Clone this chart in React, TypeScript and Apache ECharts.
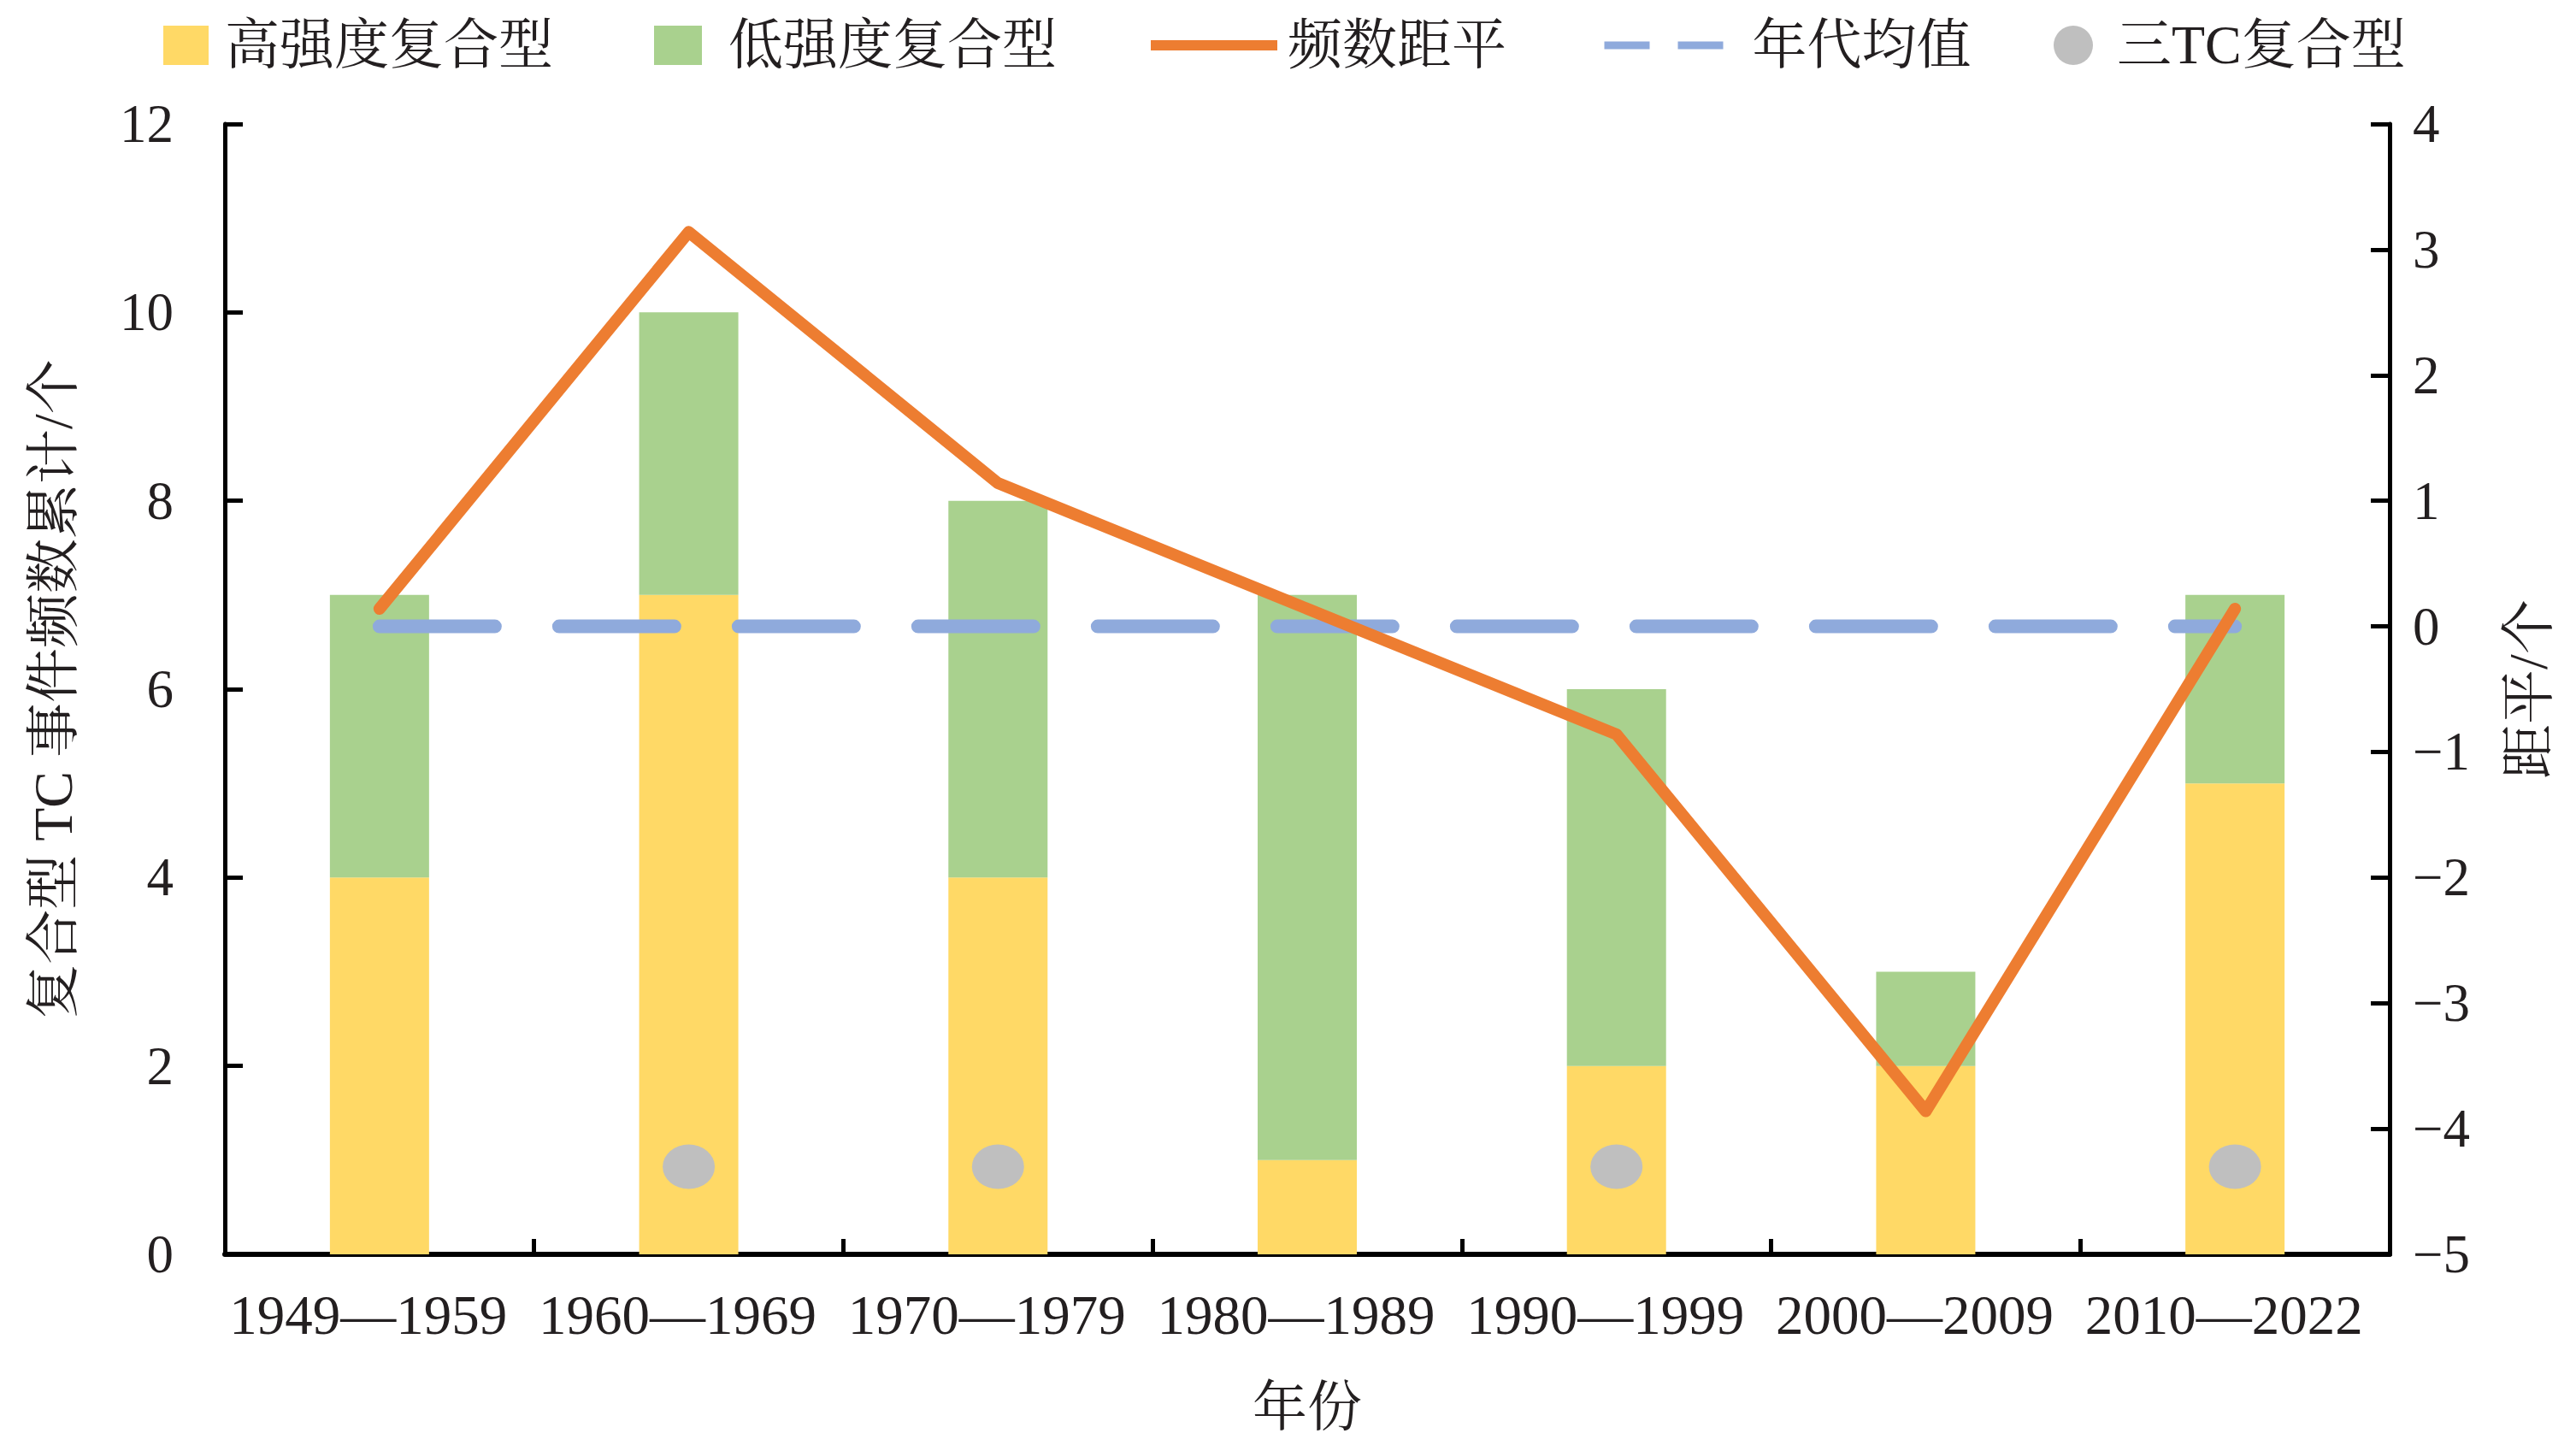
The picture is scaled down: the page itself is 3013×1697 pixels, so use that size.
import React, { useEffect, useRef } from "react";
import * as echarts from "echarts";

const categories = ["1949—1959", "1960—1969", "1970—1979", "1980—1989", "1990—1999", "2000—2009", "2010—2022"];
const highIntensity = [4, 7, 4, 1, 2, 2, 5];
const lowIntensity = [3, 3, 4, 6, 4, 1, 2];
const anomaly = [0.14, 3.14, 1.14, 0.14, -0.86, -3.86, 0.14];
const decadeMean = [0, 0, 0, 0, 0, 0, 0];
const tripleTC = ["-", 0.93, 0.93, "-", 0.93, "-", 0.93];

const FONT = "'Liberation Serif', 'Noto Serif CJK SC', 'Noto Sans CJK SC', serif";
const TXT = "#231f20";
const ELLIPSE = "path://M50,0A50,50 0 1,1 50,100A50,50 0 1,1 50,0Z";

const C_HIGH = "#FFD966";
const C_LOW = "#A9D18E";
const C_ORANGE = "#ED7D31";
const C_BLUE = "#8FAADC";
const C_GRAY = "#BFBFBF";

export default function App() {
  const ref = useRef<HTMLDivElement>(null);
  useEffect(() => {
    if (!ref.current) return;
    const chart = echarts.init(ref.current, null, { renderer: "svg" });
    const legendText = (pad: number) => ({
      fontFamily: FONT,
      fontSize: 64,
      color: TXT,
      padding: [0, 0, 0, pad],
    });
    const legendBase = { top: 21, padding: 0, orient: "horizontal", selectedMode: false };
    chart.setOption({
      animation: false,
      backgroundColor: "#ffffff",
      textStyle: { fontFamily: FONT },
      legend: [
        {
          ...legendBase,
          left: 191,
          itemWidth: 53,
          itemHeight: 46,
          textStyle: legendText(14),
          data: [{ name: "高强度复合型", icon: "rect" }],
        },
        {
          ...legendBase,
          left: 765,
          itemWidth: 56,
          itemHeight: 46,
          textStyle: legendText(26),
          data: [{ name: "低强度复合型", icon: "rect" }],
        },
        {
          ...legendBase,
          left: 1340,
          itemWidth: 148,
          itemHeight: 46,
          textStyle: legendText(7),
          data: [
            {
              name: "频数距平",
              itemStyle: { opacity: 0 },
              lineStyle: { width: 12, color: C_ORANGE, cap: "butt" },
            },
          ],
        },
        {
          ...legendBase,
          left: 1872,
          itemWidth: 140,
          itemHeight: 46,
          textStyle: legendText(28),
          data: [
            {
              name: "年代均值",
              itemStyle: { opacity: 0 },
              lineStyle: { width: 9, color: C_BLUE, type: [53, 33], cap: "butt" },
            },
          ],
        },
        {
          ...legendBase,
          left: 2402,
          itemWidth: 54,
          itemHeight: 46,
          textStyle: legendText(19),
          data: [{ name: "三TC复合型", icon: ELLIPSE, itemStyle: { color: C_GRAY, opacity: 1 } }],
        },
      ],
      grid: { left: 263, right: 218, top: 145, bottom: 230, containLabel: false },
      xAxis: {
        type: "category",
        data: categories,
        boundaryGap: true,
        name: "年份",
        nameLocation: "middle",
        nameGap: 146,
        nameTextStyle: { fontFamily: FONT, fontSize: 64, color: TXT },
        axisLine: { show: true, lineStyle: { color: "#000", width: 6 } },
        axisTick: { show: true, inside: true, length: 18, lineStyle: { color: "#000", width: 5 } },
        axisLabel: {
          fontFamily: FONT,
          fontSize: 65,
          color: TXT,
          margin: 38,
          interval: 0,
          padding: [0, 26, 0, 0],
        },
        splitLine: { show: false },
      },
      yAxis: [
        {
          type: "value",
          min: 0,
          max: 12,
          interval: 2,
          position: "left",
          name: "复合型 TC 事件频数累计/个",
          nameLocation: "middle",
          nameRotate: 90,
          nameGap: 169,
          nameTextStyle: { fontFamily: FONT, fontSize: 64, color: TXT },
          axisLine: { show: true, lineStyle: { color: "#000", width: 5 } },
          axisTick: { show: true, inside: true, length: 21, lineStyle: { color: "#000", width: 5 } },
          axisLabel: { fontFamily: FONT, fontSize: 63, color: TXT, margin: 60 },
          splitLine: { show: false },
        },
        {
          type: "value",
          min: -5,
          max: 4,
          interval: 1,
          position: "right",
          name: "距平/个",
          nameLocation: "middle",
          nameRotate: 90,
          nameGap: 130,
          nameTextStyle: { fontFamily: FONT, fontSize: 64, color: TXT },
          axisLine: { show: true, lineStyle: { color: "#000", width: 5 } },
          axisTick: { show: true, inside: true, length: 22, lineStyle: { color: "#000", width: 5 } },
          axisLabel: {
            fontFamily: FONT,
            fontSize: 63,
            color: TXT,
            margin: 27,
            formatter: (v: number) => (v < 0 ? "\u2212" + Math.abs(v) : String(v)),
          },
          splitLine: { show: false },
        },
      ],
      series: [
        {
          name: "高强度复合型",
          type: "bar",
          stack: "total",
          barWidth: 116,
          data: highIntensity,
          itemStyle: { color: C_HIGH },
          z: 1,
        },
        {
          name: "低强度复合型",
          type: "bar",
          stack: "total",
          barWidth: 116,
          data: lowIntensity,
          itemStyle: { color: C_LOW },
          z: 1,
        },
        {
          name: "年代均值",
          type: "line",
          yAxisIndex: 1,
          data: decadeMean,
          symbol: "none",
          lineStyle: { color: C_BLUE, width: 16, type: [135, 75], cap: "round" },
          itemStyle: { color: C_BLUE },
          z: 3,
        },
        {
          name: "频数距平",
          type: "line",
          yAxisIndex: 1,
          data: anomaly,
          symbol: "none",
          lineStyle: { color: C_ORANGE, width: 14, cap: "round", join: "round" },
          itemStyle: { color: C_ORANGE },
          z: 4,
        },
        {
          name: "三TC复合型",
          type: "scatter",
          data: tripleTC,
          symbol: ELLIPSE,
          symbolSize: [61, 52],
          itemStyle: { color: C_GRAY, opacity: 1 },
          z: 5,
        },
      ],
    });
    return () => chart.dispose();
  }, []);
  return (
    <div
      ref={ref}
      style={{ position: "absolute", left: 0, top: 0, width: 3013, height: 1697, background: "#fff" }}
    />
  );
}
